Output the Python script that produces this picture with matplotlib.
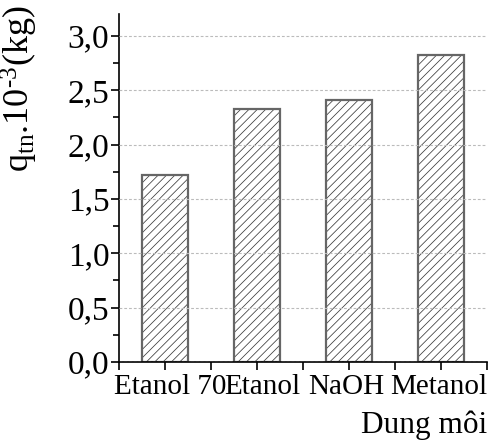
import matplotlib
matplotlib.use("Agg")
import matplotlib.pyplot as plt
from matplotlib.ticker import FixedLocator, MultipleLocator, FuncFormatter
from matplotlib.transforms import ScaledTranslation

plt.rcParams['font.family'] = ['Liberation Serif', 'DejaVu Serif']
plt.rcParams['mathtext.fontset'] = 'custom'
plt.rcParams['mathtext.rm'] = 'Liberation Serif'
plt.rcParams['mathtext.it'] = 'Liberation Serif:italic'
plt.rcParams['hatch.linewidth'] = 0.55

# Solvent categories and extracted mass (x 10^-3 kg)
solvents = ["Etanol 70", "Etanol", "NaOH", "Metanol"]
mass = [1.72, 2.33, 2.41, 2.82]
y_ticks = [0.0, 0.5, 1.0, 1.5, 2.0, 2.5, 3.0]

fig = plt.figure(figsize=(5.02, 4.43), dpi=100)
ax = fig.add_axes([119 / 502, 1 - 362 / 443, 368 / 502, 348 / 443])

pos = list(range(1, len(solvents) + 1))
# hatched fill
ax.bar(pos, mass, width=0.5, color="white", edgecolor="#3a3a3a",
       linewidth=0, hatch="////", zorder=1)
# outline
ax.bar(pos, mass, width=0.5, fill=False, edgecolor="#666666",
       linewidth=1.6, zorder=1.1)

ax.set_xlim(0.5, 4.5)
ax.set_ylim(0, 3.2)

ax.spines['top'].set_visible(False)
ax.spines['right'].set_visible(False)
for s in ('left', 'bottom'):
    ax.spines[s].set_linewidth(1.2)

ax.yaxis.set_major_locator(FixedLocator(y_ticks))
ax.yaxis.set_minor_locator(MultipleLocator(0.25))
ax.yaxis.set_major_formatter(FuncFormatter(lambda v, p: f"{v:.1f}".replace('.', ',')))

xt = [0.5 + 0.5 * i for i in range(9)]
ax.xaxis.set_major_locator(FixedLocator(xt))
ax.set_xticklabels(["" if i % 2 == 0 else solvents[i // 2] for i in range(9)])

ax.tick_params(axis='y', which='major', direction='out', length=6, width=1.2,
               labelsize=24, pad=1)
ax.tick_params(axis='y', which='minor', direction='out', length=4, width=1.2)
ax.tick_params(axis='x', which='major', direction='out', length=6, width=1.2,
               labelsize=21, pad=3)

# small horizontal nudges of the category labels (pixels)
nudges = [5, 5, -3, -2]
for t, dx in zip(ax.get_xticklabels()[1::2], nudges):
    t.set_transform(t.get_transform() + ScaledTranslation(dx / 100, 0, fig.dpi_scale_trans))

ax.set_axisbelow(False)
ax.yaxis.grid(True, linestyle=(0, (2.5, 1.8)), color="#bbbbbb", linewidth=0.8)
ax.xaxis.grid(False)

ax.set_ylabel(r"q$_{\mathrm{tn}}$.10$^{\text{-3}}$(kg)", fontsize=26)
ax.yaxis.set_label_coords(-0.215, 0.787)

fig.text(487 / 502, 1 - 433 / 443, "Dung môi", ha="right", va="baseline",
         fontsize=22.5)

fig.savefig("out.png", dpi=100)
